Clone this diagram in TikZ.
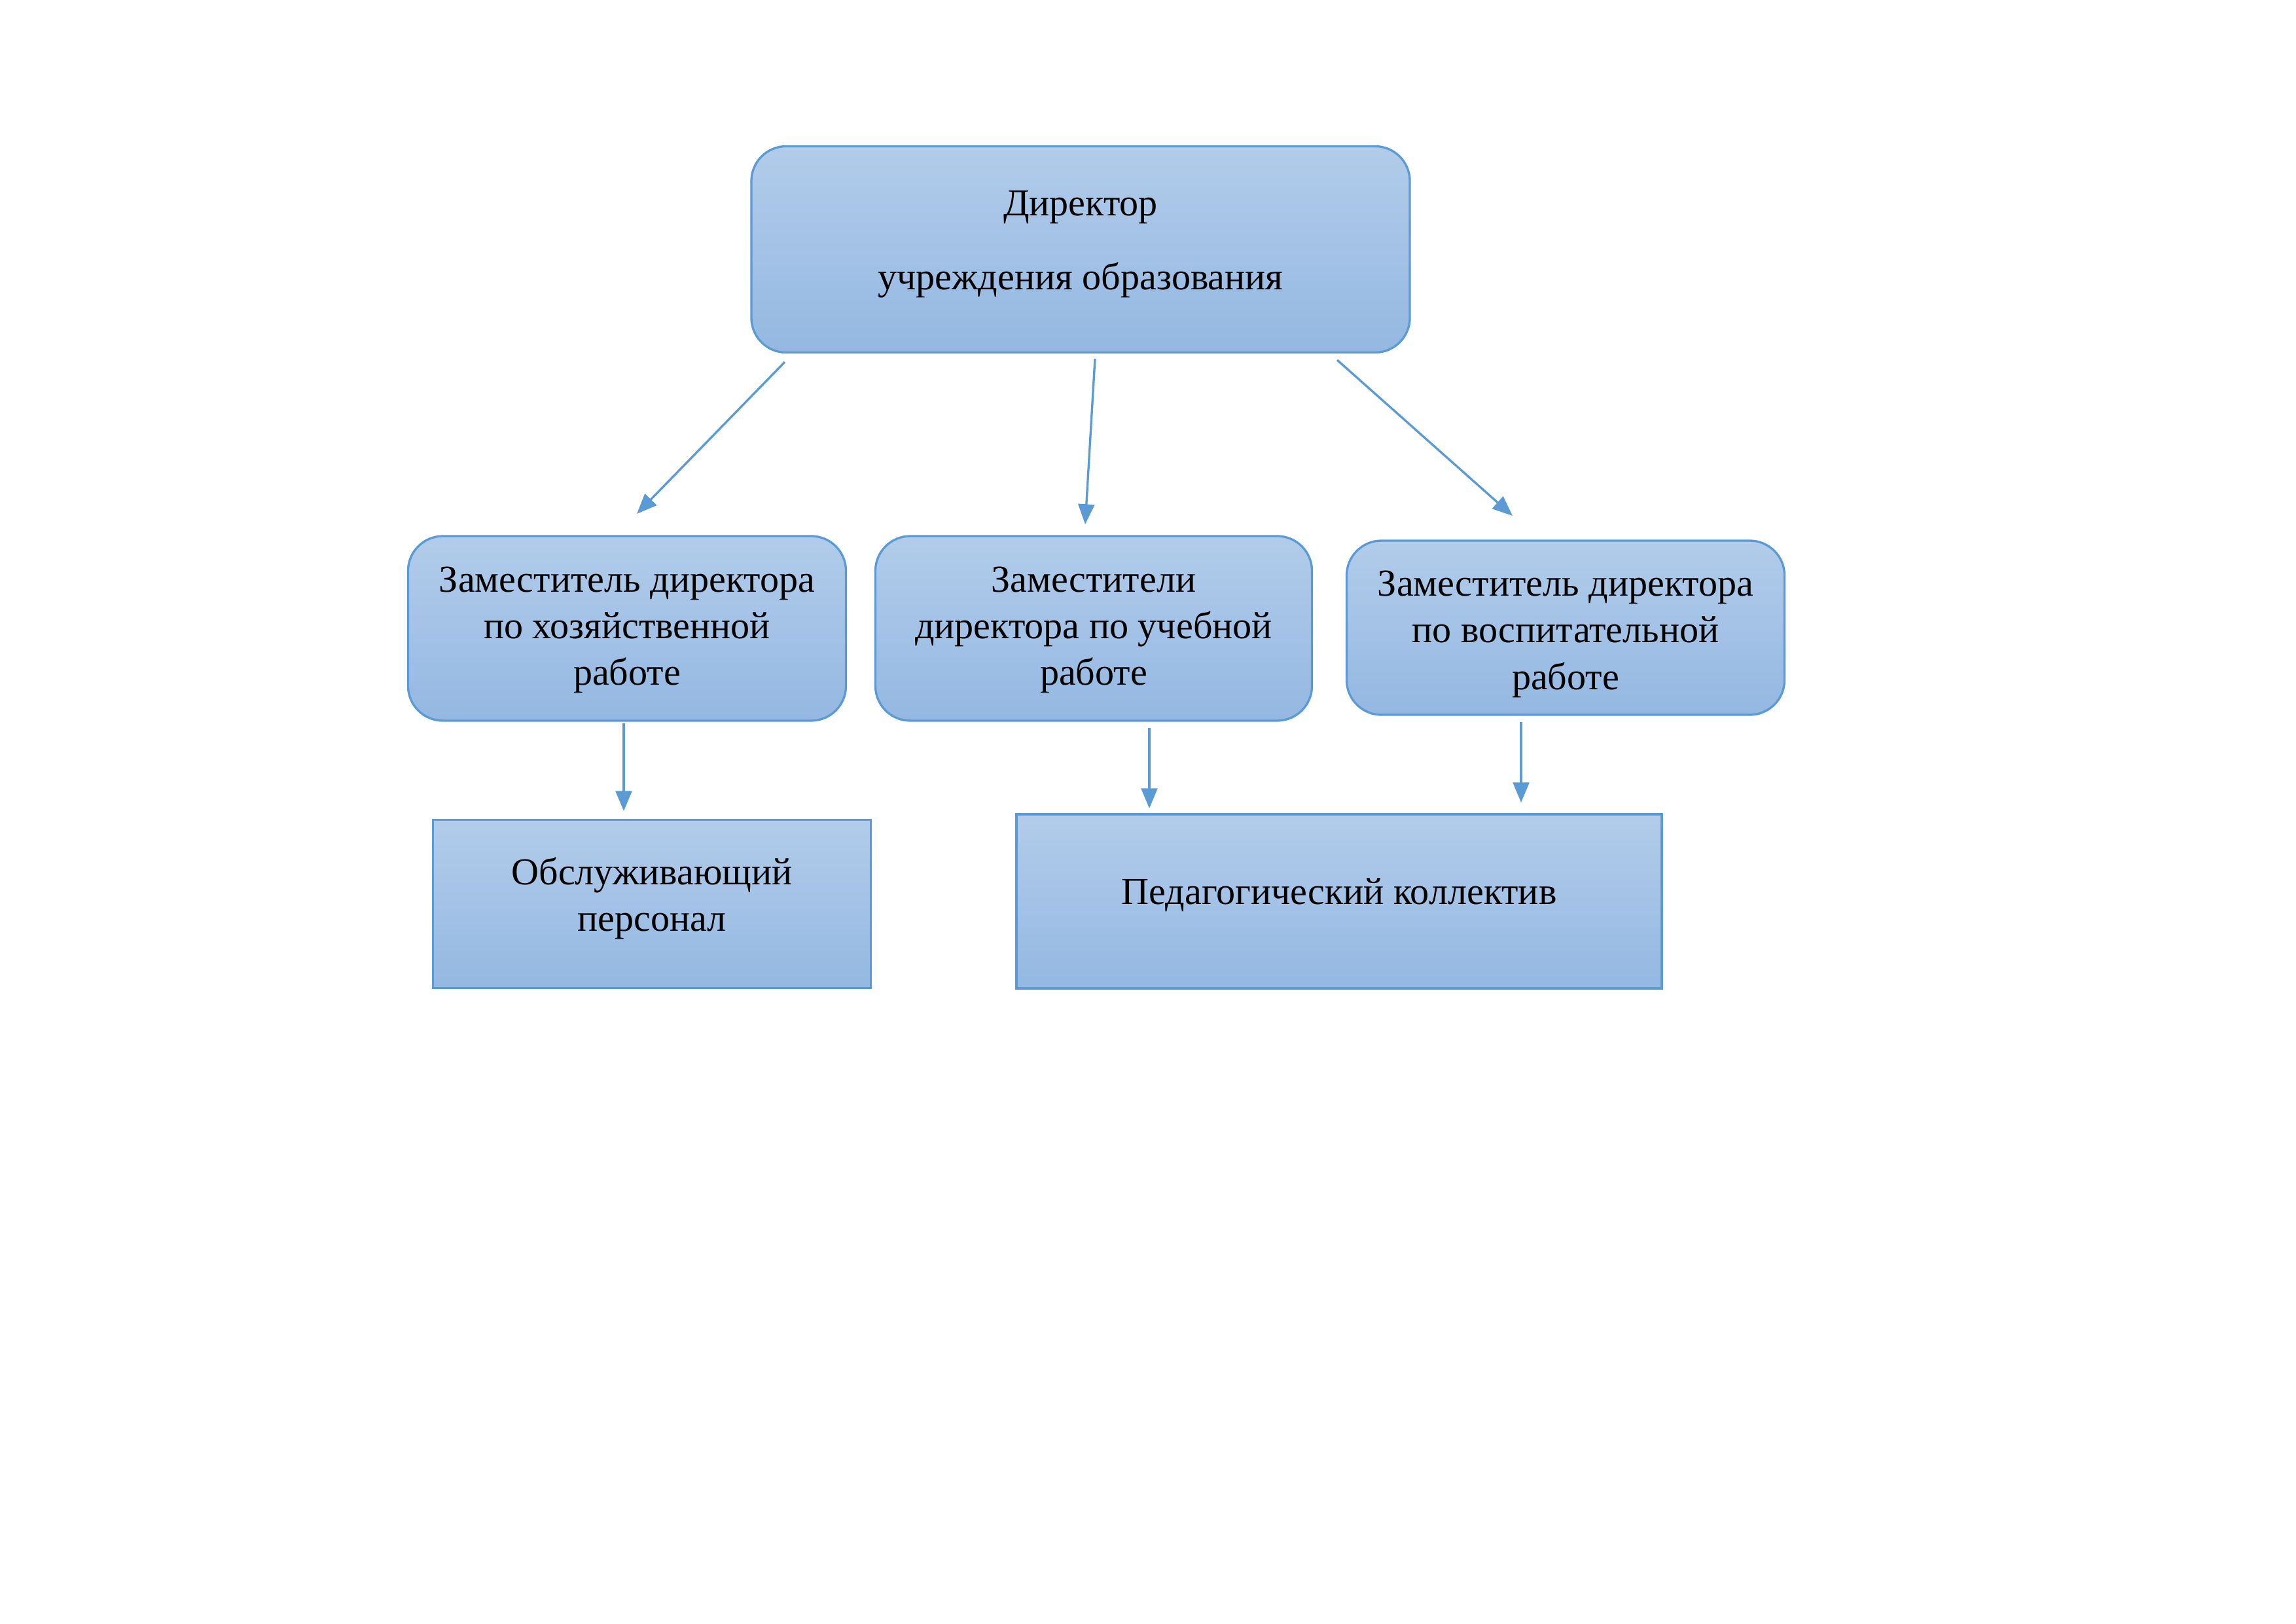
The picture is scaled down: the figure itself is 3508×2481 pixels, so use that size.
\documentclass[tikz,border=0pt]{standalone}
\usepackage{fontspec}
\setmainfont{Liberation Serif}
\usetikzlibrary{arrows.meta}
\definecolor{edgeblue}{RGB}{91,155,213}
\definecolor{filltop}{RGB}{178,204,234}
\definecolor{fillbot}{RGB}{148,184,226}
\begin{document}
\begin{tikzpicture}[x=0.08466mm,y=-0.08466mm,
  box/.style={draw=edgeblue,line width=0.8pt,top color=filltop,bottom color=fillbot,inner sep=0pt},
  rbox/.style={box,rounded corners=4.5mm},
  txt/.style={align=center,inner sep=0pt,font=\fontsize{14}{17.2}\selectfont},
  arr/.style={draw=edgeblue,line width=0.8pt,-{Triangle[length=2.6mm,width=2.1mm]}}]
\useasboundingbox (0,0) rectangle (3508,2481);
\fill[white] (0,0) rectangle (3508,2481);
\node[rbox,minimum width=85.17mm,minimum height=26.67mm] (dir) at (1651,381) {};
\node[rbox,minimum width=56.64mm,minimum height=23.87mm] (zh) at (958,960) {};
\node[rbox,minimum width=56.47mm,minimum height=23.87mm] (zu) at (1671,960) {};
\node[rbox,minimum width=56.64mm,minimum height=22.52mm] (zv) at (2392,959) {};
\node[box,minimum width=56.64mm,minimum height=21.76mm] (obs) at (996,1381) {};
\node[box,minimum width=83.47mm,minimum height=22.52mm] (ped) at (2046,1377) {};
\node[txt] (dirT) at ([yshift=0.66mm]dir.center) {Директор\\[10pt]учреждения образования};
\node[txt] (zhT) at ([yshift=-0.2mm]zh.center) {Заместитель директора\\по хозяйственной\\работе};
\node[txt] (zuT) at ([yshift=-0.2mm]zu.center) {Заместители\\директора по учебной\\работе};
\node[txt] (zvT) at ([yshift=-0.81mm]zv.center) {Заместитель директора\\по воспитательной\\работе};
\node[txt] (obsT) at ([yshift=0.72mm]obs.center) {Обслуживающий\\персонал};
\node[txt] (pedT) at ([yshift=0.85mm]ped.center) {Педагогический коллектив};
\coordinate (a1s) at (1199,553); \coordinate (a1e) at (973,785);
\coordinate (a2s) at (1673,548); \coordinate (a2e) at (1658,801);
\coordinate (a3s) at (2043,550); \coordinate (a3e) at (2311,788);
\coordinate (a4s) at (953,1105); \coordinate (a4e) at (953,1239);
\coordinate (a5s) at (1756,1112); \coordinate (a5e) at (1756,1235);
\coordinate (a6s) at (2324,1103); \coordinate (a6e) at (2324,1226);
\draw[arr] (a1s) -- (a1e);
\draw[arr] (a2s) -- (a2e);
\draw[arr] (a3s) -- (a3e);
\draw[arr] (a4s) -- (a4e);
\draw[arr] (a5s) -- (a5e);
\draw[arr] (a6s) -- (a6e);
\end{tikzpicture}
\end{document}
